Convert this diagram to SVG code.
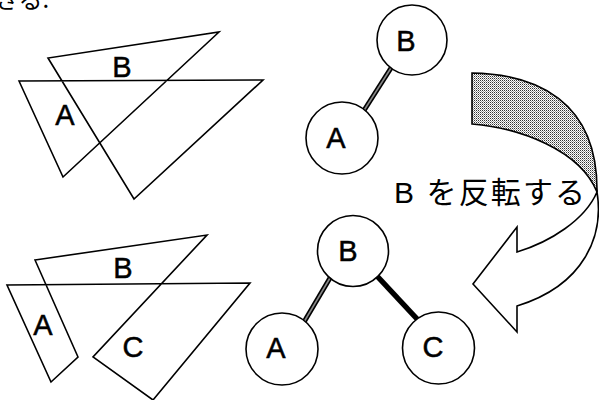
<svg xmlns="http://www.w3.org/2000/svg" width="599" height="400" viewBox="0 0 599 400">
<style>
.ln{fill:none;stroke:#000;stroke-width:1.6;stroke-linejoin:miter}
.nd{fill:#fff;stroke:#000;stroke-width:1.6}
.lb{font-family:"Liberation Sans",Arial,sans-serif;font-size:29px;fill:#000;stroke:#000;stroke-width:0.5;text-anchor:middle}
.jp{font-family:"Liberation Sans","Noto Sans CJK JP",sans-serif;font-size:30px;fill:#000}
.eh{stroke:#000;stroke-width:5;stroke-linecap:butt}
.ei{stroke:#888;stroke-width:1.6}
.es{stroke:#000;stroke-width:5.5}
</style>
<defs>
<pattern id="dots" width="2" height="2" patternUnits="userSpaceOnUse">
<rect width="2" height="2" fill="#fff"/>
<rect width="1" height="1" fill="#333"/>
<rect x="1" y="1" width="1" height="1" fill="#999"/>
</pattern>
</defs>
<rect width="599" height="400" fill="#fff"/>
<text x="-5" y="8" style="font-family:'Noto Sans CJK JP',sans-serif;font-size:24px">きる.</text>

<g id="figure-top">
<polygon class="ln" points="19,81 63,177 219,32 48,58 134,199 263,80"/>
<text class="lb" x="122" y="77">B</text>
<text class="lb" x="65" y="125">A</text>
</g>

<g id="figure-bottom">
<polygon class="ln" points="35,260 207,235 93,357 153,400 250,283 7,285 51,382 78,357"/>
<text class="lb" x="123" y="278">B</text>
<text class="lb" x="43" y="335">A</text>
<text class="lb" x="133" y="357">C</text>
</g>

<g id="connectors">
<line class="eh" x1="391" y1="68" x2="363" y2="112"/>
<line class="ei" x1="391" y1="68" x2="363" y2="112"/>
<line class="eh" x1="330" y1="278" x2="304" y2="322"/>
<line class="ei" x1="330" y1="278" x2="304" y2="322"/>
<line class="es" x1="377" y1="276" x2="418" y2="320"/>
</g>

<g id="node-top-B">
<circle class="nd" cx="412" cy="40" r="35"/>
<text class="lb" x="406" y="51">B</text>
</g>
<g id="node-top-A">
<circle class="nd" cx="342" cy="138" r="36"/>
<text class="lb" x="336" y="148">A</text>
</g>
<g id="node-bottom-B">
<circle class="nd" cx="353" cy="251" r="35.5"/>
<text class="lb" x="348" y="261">B</text>
</g>
<g id="node-bottom-A">
<circle class="nd" cx="282" cy="349" r="36"/>
<text class="lb" x="276" y="358">A</text>
</g>
<g id="node-bottom-C">
<circle class="nd" cx="438.5" cy="348" r="36"/>
<text class="lb" x="433" y="357">C</text>
</g>

<g id="flip-arrow">
<path class="ln" style="fill:url(#dots)" d="M472,73 C535,74 598,100 597,192 C580,150 520,128 472,124 Z"/>
<path class="ln" style="fill:#fff" d="M597,192 C585,220 550,242 517,252 L517,227 L473,284 L517,332 L517,306 C585,285 604,235 597,192 Z"/>
<text class="jp" x="394" y="203" textLength="191" lengthAdjust="spacing">B を反転する</text>
</g>
</svg>
